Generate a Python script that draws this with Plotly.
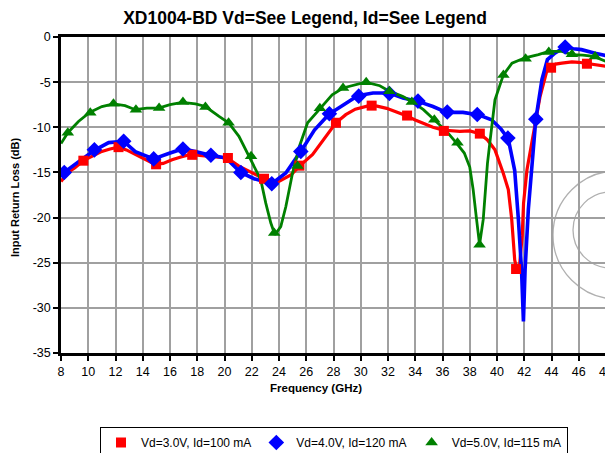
import plotly.graph_objects as go

# ---------------- data ----------------
red_x = [8, 8.5, 9.0, 9.64, 10.3, 11.0, 11.6, 12.2, 12.8, 13.45, 14.2, 14.9, 15.5, 16.15, 16.8, 17.5, 18.36, 19.2, 20.2,
         21.06, 21.7, 22.3, 22.9, 23.5, 24.0, 24.9, 25.5, 26.47, 27.2, 28.18, 28.9, 29.6, 30.6, 31.2, 31.9, 32.6, 33.3,
         34.0, 34.57, 35.3, 36.0, 36.6, 37.27, 38.0, 38.74, 39.3, 39.85, 40.46, 40.83, 41.08, 41.3, 41.45, 41.65,
         41.85, 41.95, 42.2, 42.67, 43.16, 43.65, 43.97, 44.3, 44.76, 45.5, 46.0, 46.6, 47.3, 48]
red_y = [-16.0, -15.0, -14.5, -13.7, -13.2, -12.67, -12.4, -12.2, -12.5, -13.0, -13.6, -14.1, -14.0, -13.6, -13.3, -13.0, -13.15, -13.3, -13.4,
         -14.3, -14.8, -15.25, -15.7, -15.9, -16.0, -15.25, -14.3, -13.0, -11.56, -9.5, -8.6, -8.0, -7.6, -7.65, -7.9, -8.3, -8.7,
         -9.2, -9.55, -10.0, -10.3, -10.4, -10.45, -10.4, -10.7, -11.4, -12.5, -15.1, -16.9, -20.2, -24.7, -25.7, -25.4,
         -22.0, -18.4, -14.7, -10.6, -6.6, -3.8, -3.4, -3.0, -2.9, -2.75, -2.8, -2.96, -3.1, -3.25]
red_mx = [9.64, 12.22, 14.98, 17.63, 20.25, 22.9, 25.5, 28.18, 30.8, 33.4, 36.1, 38.74, 41.4, 43.97, 46.6]
red_my = [-13.7, -12.2, -14.1, -13.05, -13.4, -15.7, -14.25, -9.5, -7.6, -8.7, -10.4, -10.7, -25.7, -3.4, -2.96]

blue_x = [8, 8.24, 9.3, 10.45, 11.5, 12.6, 13.45, 14.8, 15.9, 16.9, 17.87, 18.98, 20.1, 21.19, 22.17, 23.47, 24.5, 25.6,
          26.6, 27.7, 28.18, 28.9, 29.78, 30.9, 32.1, 33.1, 34.2, 35.3, 36.3, 37.5, 38.6, 39.6, 40.3, 40.83, 41.3,
          41.57, 41.8, 41.94, 42.06, 42.3, 42.55, 42.85, 43.3, 43.7, 44.27, 45.0, 45.6, 46.2, 47.2, 48]
blue_y = [-15.4, -15.0, -13.8, -12.55, -11.7, -11.55, -12.7, -13.5, -12.9, -12.4, -12.67, -13.1, -13.4, -15.0, -15.7, -16.25, -15.06, -12.67,
          -10.3, -8.5, -8.05, -7.3, -6.5, -6.2, -6.2, -6.75, -7.13, -7.7, -8.35, -8.35, -8.6, -9.16, -10.2, -11.3, -14.8,
          -20.2, -25.8, -31.5, -25.8, -19.1, -14.7, -9.1, -4.7, -2.5, -1.77, -1.1, -1.3, -1.4, -1.8, -2.07]
blue_mx = [8.24, 10.45, 12.6, 14.8, 16.95, 19.0, 21.2, 23.47, 25.6, 27.7, 29.85, 32.1, 34.2, 36.35, 38.55, 40.8, 42.85, 45.0]
blue_my = [-15.0, -12.5, -11.55, -13.5, -12.4, -13.1, -15.0, -16.25, -12.67, -8.5, -6.55, -6.25, -7.1, -8.3, -8.58, -11.2, -9.1, -1.1]

green_x = [8, 8.5, 9.28, 10.1, 11.0, 11.85, 12.7, 13.45, 14.3, 15.17, 16.0, 16.9, 17.87, 18.6, 19.6, 20.3, 21.06, 21.8,
           22.66, 23.03, 23.4, 23.7, 24.13, 24.5, 24.99, 25.5, 26.1, 26.95, 27.9, 28.7, 29.5, 30.35, 31.4, 32.1, 33.1,
           33.8, 34.6, 35.4, 36.3, 37.0, 37.6, 38.0, 38.25, 38.5, 38.72, 38.99, 39.15, 39.3, 39.5, 39.85, 40.47,
           41.1, 42.06, 43.04, 43.8, 44.76, 45.5, 46.3, 47.1, 48]
green_y = [-11.8, -10.6, -9.35, -8.35, -7.7, -7.4, -7.6, -8.05, -7.87, -7.87, -7.5, -7.24, -7.4, -7.7, -8.8, -9.5, -11.0, -13.2,
           -15.8, -18.4, -20.6, -21.9, -21.0, -18.8, -15.1, -12.1, -9.5, -8.05, -6.4, -5.65, -5.3, -5.0, -5.4, -6.0, -6.6,
           -7.2, -8.05, -9.16, -10.45, -11.7, -12.85, -14.4, -16.9, -20.2, -23.0, -20.2, -16.5, -14.0, -11.4, -6.95, -4.2,
           -2.9, -2.3, -1.96, -1.6, -1.6, -1.96, -2.0, -2.15, -2.7]
green_mx = [8.5, 10.15, 11.85, 13.5, 15.2, 16.95, 18.6, 20.3, 21.95, 23.65, 25.36, 27.0, 28.7, 30.4, 32.1, 33.75, 35.4, 37.1, 38.72, 40.47, 42.1, 43.8, 45.5, 47.2]
green_my = [-10.6, -8.4, -7.4, -8.05, -7.87, -7.2, -7.75, -9.5, -13.2, -21.7, -14.3, -7.9, -5.65, -5.0, -6.0, -7.2, -9.16, -11.7, -23.0, -4.2, -2.4, -1.65, -1.9, -2.15]

series_names = ["Vd=3.0V, Id=100 mA", "Vd=4.0V, Id=120 mA", "Vd=5.0V, Id=115 mA"]
x_ticks = list(range(8, 50, 2))
y_ticks = list(range(-35, 1, 5))

FONT = "Arial, Liberation Sans, sans-serif"
OFF = 8                      # page body margin in which the figure sits
W, H = 613 - OFF, 453 - OFF  # figure size so it fits the window
# plot area in page pixels -> figure pixels
L, R, T, B = 61 - OFF, 606 - OFF, 37 - OFF, 353 - OFF


def px_x(px):  # page pixel x -> paper fraction
    return (px - OFF - L) / (R - L)


def px_y(py):  # page pixel y -> paper fraction
    return (B - (py - OFF)) / (B - T)


fig = go.Figure()

specs = [
    (red_x, red_y, red_mx, red_my, "#ff0000", "square", 10, 3.2),
    (blue_x, blue_y, blue_mx, blue_my, "#0000ff", "diamond", 12, 3.6),
    (green_x, green_y, green_mx, green_my, "#008000", "triangle-up", 11, 2.8),
]
for (lx, ly, mx, my, col, sym, msz, lw) in specs:
    fig.add_trace(go.Scatter(x=lx, y=ly, mode="lines", line=dict(color=col, width=lw),
                             showlegend=False, hoverinfo="skip"))
for (lx, ly, mx, my, col, sym, msz, lw), name in zip(specs, series_names):
    fig.add_trace(go.Scatter(x=mx, y=my, mode="markers", name=name,
                             marker=dict(color=col, symbol=sym, size=msz, line=dict(width=0))))

fig.update_layout(
    width=W, height=H,
    margin=dict(l=L, r=W - R, t=T, b=H - B, autoexpand=False),
    paper_bgcolor="white", plot_bgcolor="rgba(0,0,0,0)",
    font=dict(family=FONT, size=12, color="black"),
    title=dict(text="<b>XD1004-BD Vd=See Legend, Id=See Legend</b>",
               x=(305 - OFF) / W, xref="container", xanchor="center",
               y=1 - (18 - OFF) / H, yref="container", yanchor="middle",
               font=dict(size=17.5, family=FONT)),
    legend=dict(orientation="h", x=px_x(334), xanchor="center", xref="paper",
                y=1 - (427 - OFF) / H, yref="container", yanchor="top",
                bordercolor="black", borderwidth=1, font=dict(size=12, family=FONT),
                itemwidth=30, tracegroupgap=0),
    showlegend=True,
)
fig.update_xaxes(range=[8, 48], tickvals=x_ticks, ticktext=[str(v) for v in x_ticks],
                 showgrid=True, gridcolor="#a0a0a0", gridwidth=2, automargin=False,
                 showline=True, linecolor="black", linewidth=2.5, mirror=True,
                 ticks="outside", ticklen=5, tickwidth=2, tickcolor="black",
                 tickfont=dict(size=12.5), zeroline=False)
fig.update_yaxes(range=[-35, 0], tickvals=y_ticks, ticktext=[str(v) for v in y_ticks],
                 showgrid=True, gridcolor="#a0a0a0", gridwidth=2, automargin=False,
                 showline=True, linecolor="black", linewidth=2.5, mirror=True,
                 ticks="outside", ticklen=5, tickwidth=2, tickcolor="black",
                 tickfont=dict(size=12.5), zeroline=False)

fig.add_annotation(text="<b>Frequency (GHz)</b>", xref="paper", yref="paper",
                   x=px_x(316), y=px_y(388), showarrow=False,
                   xanchor="center", yanchor="middle", font=dict(size=11.5, family=FONT))
fig.add_annotation(text="<b>Input Return Loss (dB)</b>", xref="paper", yref="paper",
                   x=px_x(15), y=px_y(198), showarrow=False, textangle=-90,
                   xanchor="center", yanchor="middle", font=dict(size=11, family=FONT))

# faint watermark arcs (light grey outlines)
for cx, cy, r in [(617, 235, 64), (611, 230, 38)]:
    fig.add_shape(type="circle", xref="paper", yref="paper",
                  x0=px_x(cx - r), x1=px_x(cx + r), y0=px_y(cy + r), y1=px_y(cy - r),
                  line=dict(color="#b0b0b0", width=1.3), layer="below")

fig.write_html("out.html")
